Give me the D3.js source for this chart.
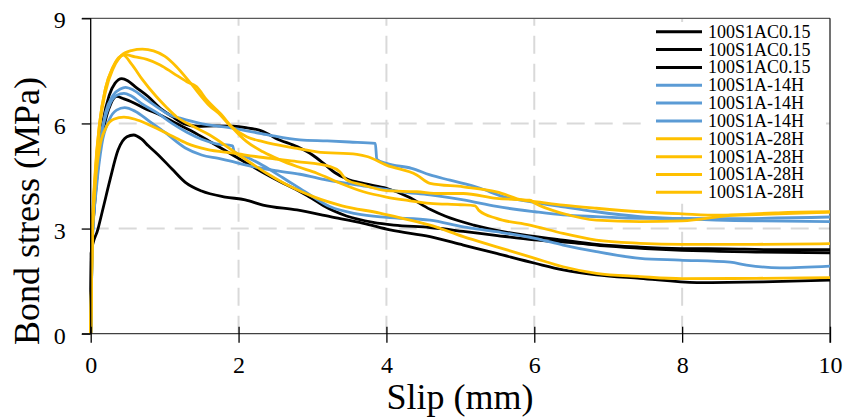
<!DOCTYPE html>
<html>
<head>
<meta charset="utf-8">
<script src="https://cdn.jsdelivr.net/npm/d3@7"></script>
<style>
  html, body { margin: 0; padding: 0; background: #fff; }
  svg { display: block; }
  svg text { font-family: "Liberation Serif", "Times New Roman", serif; }
</style>
</head>
<body>
<svg id="chart" width="850" height="419"></svg>
<script>
// Bond stress – slip curves, pull-out tests (slip in mm, stress in MPa)
const xTicks = [0, 2, 4, 6, 8, 10];
const yTicks = [0, 3, 6, 9];
const xLabel = "Slip (mm)";
const yLabel = "Bond stress (MPa)";

const seriesNames = [
  "100S1AC0.15", "100S1AC0.15", "100S1AC0.15",
  "100S1A-14H", "100S1A-14H", "100S1A-14H",
  "100S1A-28H", "100S1A-28H", "100S1A-28H", "100S1A-28H"
];
const seriesGroup = ["ac", "ac", "ac", "h14", "h14", "h14", "h28", "h28", "h28", "h28"];

// 100S1AC0.15 specimens
const ac015A = [[0,0],[0.01,2.4],[0.05,3.8],[0.1,5.0],[0.17,6.1],[0.25,6.8],[0.33,7.15],[0.42,7.28],[0.5,7.22],[0.6,7.05],[0.78,6.76],[0.96,6.4],[1.1,6.2],[1.28,5.98],[1.45,5.92],[1.7,5.93],[1.93,5.92],[2.1,5.88],[2.29,5.8],[2.38,5.72],[2.5,5.58],[2.79,5.34],[3.0,5.1],[3.15,4.86],[3.3,4.6],[3.46,4.42],[3.7,4.28],[4.0,4.15],[4.3,3.9],[4.59,3.55],[4.8,3.35],[5.18,3.1],[5.72,2.86],[6.39,2.67],[6.84,2.55],[7.43,2.47],[8.0,2.43],[8.6,2.42],[9.2,2.4],[10,2.4]];
const ac015B = [[0,0],[0.01,2.3],[0.05,3.6],[0.1,4.8],[0.18,5.9],[0.27,6.55],[0.35,6.77],[0.45,6.7],[0.55,6.62],[0.73,6.43],[0.96,6.22],[1.14,6.02],[1.37,5.78],[1.64,5.45],[1.88,5.15],[2.1,4.88],[2.33,4.6],[2.55,4.35],[2.79,4.1],[3.0,3.85],[3.15,3.65],[3.46,3.36],[3.82,3.18],[4.1,3.1],[4.59,3.03],[5.04,2.92],[5.5,2.8],[6.0,2.68],[6.5,2.6],[7.0,2.5],[7.5,2.43],[8.0,2.38],[8.5,2.35],[9.0,2.33],[10,2.31]];
const ac015C = [[0,0],[0.005,2.3],[0.1,3.0],[0.17,3.6],[0.26,4.38],[0.37,5.24],[0.49,5.62],[0.58,5.67],[0.69,5.55],[0.78,5.36],[0.89,5.15],[1.1,4.7],[1.28,4.32],[1.5,4.07],[1.82,3.9],[2.09,3.82],[2.33,3.67],[2.79,3.53],[3.24,3.34],[3.69,3.15],[4.05,2.96],[4.59,2.77],[5.04,2.53],[5.49,2.29],[6.01,2.01],[6.39,1.82],[6.84,1.68],[7.43,1.58],[8.2,1.46],[9.1,1.48],[10,1.53]];

// 100S1A-14H specimens
const h14A = [[0,0],[0.02,2.6],[0.07,4.2],[0.13,5.5],[0.2,6.3],[0.3,6.8],[0.4,6.98],[0.47,7.03],[0.58,6.95],[0.76,6.67],[0.89,6.48],[1.07,6.24],[1.21,6.15],[1.48,6.0],[1.93,5.86],[2.38,5.68],[2.83,5.53],[3.2,5.5],[3.5,5.47],[3.85,5.43],[3.87,4.98],[4.0,4.86],[4.34,4.72],[4.59,4.53],[4.86,4.38],[5.27,4.15],[5.58,3.91],[5.94,3.77],[6.39,3.62],[6.84,3.48],[7.43,3.34],[8.0,3.28],[9.0,3.22],[10,3.2]];
const h14B = [[0,0],[0.02,2.5],[0.08,4.4],[0.15,5.7],[0.25,6.5],[0.35,6.8],[0.45,6.86],[0.55,6.78],[0.7,6.55],[0.9,6.3],[1.1,6.0],[1.3,5.75],[1.5,5.55],[1.7,5.42],[1.92,5.36],[1.94,5.2],[2.1,5.05],[2.33,4.8],[2.6,4.45],[2.9,4.05],[3.24,3.62],[3.6,3.42],[4.0,3.32],[4.59,3.24],[5.04,3.05],[5.49,2.91],[6.01,2.72],[6.39,2.53],[6.84,2.34],[7.43,2.15],[7.97,2.1],[8.65,2.04],[8.87,1.96],[9.32,1.88],[10,1.93]];
const h14C = [[0,0],[0.02,2.5],[0.08,4.2],[0.15,5.4],[0.25,6.1],[0.35,6.38],[0.46,6.45],[0.6,6.35],[0.8,6.05],[1.0,5.75],[1.28,5.3],[1.5,5.1],[1.73,5.0],[1.88,4.93],[2.09,4.82],[2.5,4.65],[2.83,4.55],[3.2,4.38],[3.77,4.19],[4.2,4.05],[4.59,3.96],[5.04,3.82],[5.49,3.63],[6.01,3.48],[6.39,3.39],[6.84,3.34],[7.43,3.29],[8.5,3.28],[10,3.33]];

// 100S1A-28H specimens
const h28A = [[0,0],[0.02,2.8],[0.06,4.6],[0.12,6.0],[0.2,7.0],[0.3,7.6],[0.42,7.95],[0.55,8.08],[0.7,8.12],[0.85,8.07],[1.0,7.92],[1.16,7.62],[1.34,7.18],[1.61,6.5],[1.75,6.25],[1.88,5.95],[2.11,5.62],[2.33,5.48],[2.79,5.29],[3.06,5.19],[3.6,5.12],[3.75,5.05],[4.0,4.81],[4.41,4.53],[4.59,4.29],[5.04,4.19],[5.49,4.05],[5.85,3.81],[6.01,3.77],[6.39,3.67],[6.84,3.58],[7.43,3.48],[8.0,3.42],[8.5,3.38],[9.0,3.4],[10,3.47]];
const h28B = [[0,0],[0.02,2.6],[0.06,4.4],[0.12,5.9],[0.2,6.9],[0.3,7.55],[0.38,7.85],[0.45,7.97],[0.6,7.9],[0.76,7.83],[0.94,7.67],[1.12,7.43],[1.3,7.19],[1.43,7.05],[1.57,6.67],[1.75,6.29],[1.93,5.85],[2.11,5.48],[2.33,5.19],[2.56,4.96],[2.79,4.77],[3.06,4.58],[3.37,4.3],[3.69,4.05],[4.0,3.9],[4.3,3.8],[4.59,3.72],[5.0,3.68],[5.2,3.65],[5.25,3.52],[5.49,3.29],[5.94,3.1],[6.39,2.86],[6.84,2.67],[7.43,2.58],[8.0,2.55],[9.0,2.55],[10,2.57]];
const h28C = [[0,0],[0.02,2.7],[0.06,4.5],[0.12,6.0],[0.2,7.0],[0.3,7.6],[0.38,7.88],[0.44,7.95],[0.55,7.7],[0.7,7.25],[0.89,6.76],[1.03,6.45],[1.16,6.19],[1.39,5.91],[1.61,5.67],[1.97,5.15],[2.38,4.58],[2.7,4.2],[3.01,3.91],[3.4,3.65],[3.91,3.44],[4.2,3.3],[4.59,3.1],[5.04,2.77],[5.49,2.48],[6.01,2.15],[6.39,1.91],[6.84,1.72],[7.43,1.63],[8.0,1.57],[9.0,1.58],[10,1.6]];
const h28D = [[0,0],[0.02,2.6],[0.06,4.2],[0.12,5.3],[0.2,5.85],[0.31,6.12],[0.45,6.18],[0.6,6.12],[0.75,6.0],[0.89,5.86],[1.12,5.62],[1.3,5.43],[1.57,5.26],[1.93,5.15],[2.43,5.0],[2.79,4.91],[3.24,4.77],[3.37,4.62],[3.46,4.39],[3.69,4.24],[4.0,4.08],[4.41,4.05],[4.72,4.0],[5.04,4.0],[5.49,3.86],[5.94,3.81],[6.01,3.72],[6.39,3.43],[6.84,3.24],[7.43,3.2],[8.0,3.22],[8.65,3.38],[9.3,3.45],[10,3.48]];

const seriesData = [ac015A, ac015B, ac015C, h14A, h14B, h14C, h28A, h28B, h28C, h28D];

const groupColor = { ac: "#000000", h14: "#5b9bd5", h28: "#ffc000" };
const serif = "Liberation Serif, Times New Roman, serif";

const svg = d3.select("#chart");
const x = d3.scaleLinear().domain([0, 10]).range([90.7, 830]);
const y = d3.scaleLinear().domain([0, 9]).range([333.7, 18.3]);

// dashed grid
const grid = svg.append("g").attr("stroke", "#d9d9d9").attr("stroke-width", 2)
  .attr("stroke-dasharray", "18,10").attr("fill", "none");
grid.selectAll("line.gx").data(xTicks.filter(d => d > 0 && d < 10)).join("line")
  .attr("x1", d => x(d)).attr("x2", d => x(d))
  .attr("y1", y(0)).attr("y2", y(9));
grid.selectAll("line.gy").data(yTicks.filter(d => d > 0 && d < 9)).join("line")
  .attr("y1", d => y(d)).attr("y2", d => y(d))
  .attr("x1", x(0)).attr("x2", x(10));

// frame: top and right edges
svg.append("line").attr("x1", 82).attr("x2", x(10)).attr("y1", y(9)).attr("y2", y(9))
  .attr("stroke", "#595959").attr("stroke-width", 1.3);
svg.append("line").attr("x1", x(10)).attr("x2", x(10)).attr("y1", y(9)).attr("y2", y(0) + 9)
  .attr("stroke", "#262626").attr("stroke-width", 1.3);

// curves
svg.append("clipPath").attr("id", "plotClip").append("rect")
  .attr("x", x(0) - 2).attr("y", y(9)).attr("width", x(10) - x(0) + 2).attr("height", y(0) - y(9));
const line = d3.line().x(d => x(d[0])).y(d => y(d[1])).curve(d3.curveMonotoneX);
svg.append("g").attr("clip-path", "url(#plotClip)")
  .selectAll("path").data(seriesData).join("path")
  .attr("d", line)
  .attr("fill", "none")
  .attr("stroke", (d, i) => groupColor[seriesGroup[i]])
  .attr("stroke-width", 2.8)
  .attr("stroke-linejoin", "round")
  .attr("stroke-linecap", "round");

// axes
const xAxis = svg.append("g").attr("transform", `translate(0,${y(0)})`)
  .call(d3.axisBottom(x).tickValues(xTicks).tickSize(8).tickPadding(14).tickFormat(d3.format("d")))
  .attr("font-family", serif).attr("font-size", 24);
xAxis.select(".domain").attr("d", `M82,0H${x(10)}`).attr("stroke", "#404040").attr("stroke-width", 1.3);
xAxis.selectAll(".tick line").attr("y1", -7).attr("y2", 9).attr("stroke", "#000").attr("stroke-width", 1.3);
xAxis.selectAll(".tick text").style("font-family", serif).style("font-size", "24px").attr("fill", "#000");

const yAxis = svg.append("g").attr("transform", `translate(${x(0)},0)`)
  .call(d3.axisLeft(y).tickValues(yTicks).tickSize(9).tickPadding(16).tickFormat(d3.format("d")))
  .attr("font-family", serif).attr("font-size", 24);
yAxis.select(".domain").attr("d", `M0,${y(9)}V${y(0)}`).attr("stroke", "#000").attr("stroke-width", 1.3);
yAxis.selectAll(".tick line").attr("stroke", "#000").attr("stroke-width", 1.3);
yAxis.selectAll(".tick text").style("font-family", serif).style("font-size", "24px").attr("fill", "#000").attr("dy", "0.4em");

// axis titles
svg.append("text").attr("x", 460).attr("y", 409).attr("text-anchor", "middle")
  .style("font-size", "36px").text(xLabel);
svg.append("text").attr("transform", "translate(39,211) rotate(-90)").attr("text-anchor", "middle")
  .style("font-size", "36px").text(yLabel);

// legend
const legend = svg.append("g");
legend.append("rect").attr("x", 645).attr("y", 22).attr("width", 181).attr("height", 179).attr("fill", "#fff");
const rows = legend.selectAll("g.row").data(seriesNames).join("g")
  .attr("transform", (d, i) => `translate(0,${31.7 + i * 17.85})`);
rows.append("line").attr("x1", 656).attr("x2", 702).attr("y1", 0).attr("y2", 0)
  .attr("stroke", (d, i) => groupColor[seriesGroup[i]]).attr("stroke-width", 3);
rows.append("text").attr("x", 708).attr("y", 0).attr("dy", "0.33em")
  .style("font-size", "18px").attr("fill", "#000").text(d => d);
</script>
</body>
</html>
